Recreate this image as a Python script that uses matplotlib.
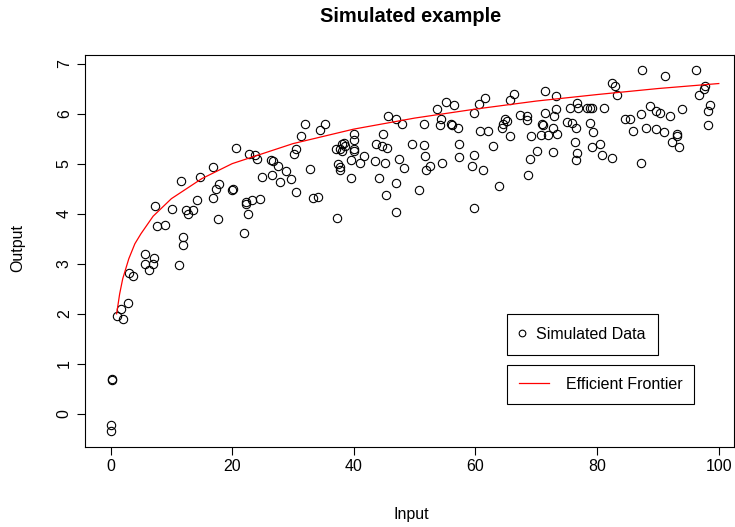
# Simulated example: scatter of inputs/outputs with an efficient frontier curve
import matplotlib
matplotlib.use('Agg')
import matplotlib.pyplot as plt

plt.rcParams['font.family'] = ['Liberation Sans', 'DejaVu Sans']

# simulated data points
input_x = [
    11.9, 11.9, 11.2, 5.7, 7.1, 5.7, 6.9, 6.4, 3.0, 3.7, 2.85, 1.64, 1.1, 2.1, 0.2, 0.25, 0.0, 0.1,
    16.9, 14.7, 11.6, 7.3, 10.1, 12.4, 12.8, 13.5, 14.2, 16.9, 17.3, 17.8, 17.6, 7.7, 9.0,
    31.9, 35.2, 34.5, 31.3, 20.7, 22.7, 23.7, 24.0, 30.5, 30.1, 26.4, 26.7, 27.5, 26.6, 28.8,
    29.6, 27.9, 24.9, 32.8, 30.5, 33.3, 34.1, 19.9, 20.1, 22.2, 22.3, 23.2, 24.6, 22.6, 22.0,
    45.6, 47.0, 47.9, 51.6, 53.6, 55.2, 54.4, 54.1, 40.1, 44.8, 40.0, 40.1, 40.1, 37.1, 37.7,
    38.0, 38.3, 38.5, 38.0, 43.6, 44.6, 45.5, 41.7, 39.5, 41.0, 43.5, 45.1, 47.5, 49.5, 51.6,
    51.7, 48.2, 52.6, 51.8, 54.5, 37.4, 37.7, 37.8, 39.5, 44.1, 47.0, 45.3, 50.7, 47.0, 37.3,
    56.5, 55.9, 56.1, 57.2, 57.3, 57.3, 59.7, 60.6, 61.6, 60.7, 62.0, 62.8, 59.7, 59.5, 61.2,
    63.9, 59.7, 65.6, 66.3, 64.9, 65.2, 64.6, 64.3, 65.6, 67.3, 68.4, 68.5, 71.4, 73.3, 71.4,
    73.3, 72.9, 70.9, 71.1, 72.7, 73.4, 69.2, 70.7, 71.9, 70.1, 69.0, 72.8, 68.6, 75.5, 76.7,
    76.9, 75.1, 75.8, 76.6, 76.3, 76.7, 76.6,
    87.4, 91.1, 96.2, 82.4, 83.0, 83.2, 97.7, 97.5, 96.8, 98.6, 98.2, 98.2, 78.3, 78.8, 79.1,
    81.2, 78.9, 79.4, 79.1, 80.5, 80.8, 82.4, 84.5, 85.4, 87.2, 88.7, 89.7, 90.4, 92.0, 93.9,
    85.9, 88.1, 89.7, 91.0, 93.1, 93.1, 92.3, 93.5, 87.2,
]
output_y = [
    3.53, 3.37, 2.97, 3.19, 3.11, 2.99, 2.99, 2.87, 2.82, 2.75, 2.22, 2.10, 1.96, 1.90, 0.68, 0.69, -0.22, -0.34,
    4.94, 4.73, 4.66, 4.15, 4.09, 4.07, 4.00, 4.07, 4.27, 4.32, 4.50, 4.59, 3.89, 3.76, 3.77,
    5.79, 5.79, 5.67, 5.55, 5.32, 5.20, 5.17, 5.10, 5.29, 5.20, 5.08, 5.05, 4.96, 4.78, 4.85,
    4.70, 4.64, 4.74, 4.89, 4.44, 4.31, 4.33, 4.48, 4.50, 4.24, 4.20, 4.28, 4.29, 4.00, 3.61,
    5.95, 5.90, 5.79, 5.79, 6.09, 6.23, 5.90, 5.78, 5.59, 5.59, 5.47, 5.30, 5.26, 5.30, 5.30,
    5.40, 5.41, 5.35, 5.26, 5.40, 5.35, 5.32, 5.16, 5.08, 5.02, 5.06, 5.02, 5.09, 5.40, 5.38,
    5.16, 4.91, 4.95, 4.87, 5.02, 5.00, 4.94, 4.88, 4.72, 4.72, 4.62, 4.38, 4.48, 4.03, 3.91,
    6.18, 5.80, 5.77, 5.72, 5.39, 5.14, 6.02, 6.20, 6.31, 5.65, 5.65, 5.36, 5.18, 4.95, 4.87,
    4.56, 4.11, 6.27, 6.39, 5.89, 5.85, 5.80, 5.72, 5.55, 5.97, 5.95, 5.88, 6.45, 6.35, 6.02,
    6.09, 5.96, 5.80, 5.78, 5.72, 5.59, 5.55, 5.57, 5.57, 5.26, 5.10, 5.24, 4.77, 6.12, 6.22,
    6.11, 5.84, 5.82, 5.72, 5.43, 5.22, 5.07,
    6.87, 6.75, 6.87, 6.62, 6.55, 6.37, 6.55, 6.49, 6.37, 6.17, 6.06, 5.78, 6.12, 6.12, 6.12,
    6.12, 5.82, 5.63, 5.34, 5.40, 5.18, 5.12, 5.90, 5.90, 6.00, 6.15, 6.05, 6.02, 5.95, 6.10,
    5.65, 5.71, 5.69, 5.63, 5.60, 5.55, 5.43, 5.34, 5.02,
]

# efficient frontier
frontier_x = [1, 1.5, 2, 3, 4, 5, 7, 10, 15, 20, 30, 40, 50, 60, 70, 80, 90, 100]
frontier_y = [2.0, 2.4, 2.7, 3.1, 3.4, 3.6, 3.95, 4.3, 4.7, 5.0, 5.4, 5.69, 5.91, 6.09,
              6.25, 6.38, 6.5, 6.6]

fig = plt.figure(figsize=(7.35, 5.27), dpi=100)
ax = fig.add_axes([85 / 735, 80 / 527, 649 / 735, 392 / 527])

pts, = ax.plot(input_x, output_y, linestyle='none', marker='o', ms=6,
               mfc='none', mec='black', mew=0.8, label='Simulated Data')
line, = ax.plot(frontier_x, frontier_y, color='red', lw=0.9, label='Efficient Frontier')

ax.set_xlim(-4.2, 102.5)
ax.set_ylim(-0.66, 7.17)
ax.set_xticks([0, 20, 40, 60, 80, 100])
ax.set_yticks(range(0, 8))
ax.tick_params(direction='out', length=5.5, width=0.8, labelsize=11.5, pad=3)
ax.tick_params(axis='y', pad=4)
plt.setp(ax.get_yticklabels(), rotation=90, va='center')
for s in ax.spines.values():
    s.set_linewidth(0.8)

fig.text(0.559, 0.023, 'Input', ha='center', va='center', fontsize=11.5)
fig.text(0.0245, 0.529, 'Output', ha='center', va='center', rotation=90, fontsize=11.5)
fig.text(0.558, 0.968, 'Simulated example', ha='center', va='center',
         fontsize=14.4, fontweight='bold')

# two separate legend boxes, as in the original
leg1 = ax.legend(handles=[pts], loc='upper left',
                 bbox_to_anchor=(507 / 735, 1 - 314 / 527), bbox_transform=fig.transFigure,
                 borderaxespad=0, fancybox=False, edgecolor='black', framealpha=1,
                 fontsize=11.5, handlelength=0.25, handletextpad=0.75, borderpad=0.8,
                 markerscale=0.8)
leg1.get_frame().set_linewidth(0.8)
ax.add_artist(leg1)
leg2 = ax.legend(handles=[line], loc='upper left',
                 bbox_to_anchor=(507 / 735, 1 - 365 / 527), bbox_transform=fig.transFigure,
                 borderaxespad=0, fancybox=False, edgecolor='black', framealpha=1,
                 fontsize=11.5, handlelength=1.88, handletextpad=1.05, borderpad=0.75)
leg2.get_frame().set_linewidth(0.8)

fig.savefig('out.png', dpi=100)
